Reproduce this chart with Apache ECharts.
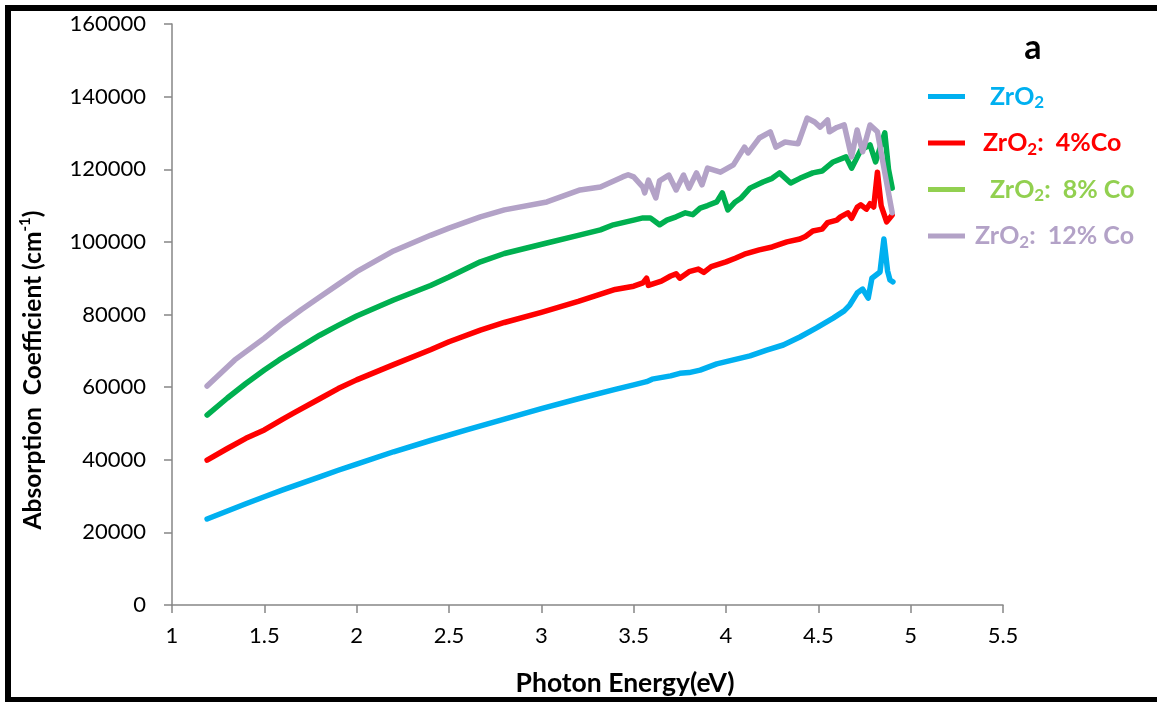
<!DOCTYPE html>
<html>
<head>
<meta charset="utf-8">
<script src="https://cdn.jsdelivr.net/npm/echarts@6/dist/echarts.min.js"></script>
<style>
  html, body { margin: 0; padding: 0; background: #ffffff; }
  #chart { width: 1157px; height: 702px; }
</style>
</head>
<body>
<div id="chart"></div>
<script>
// Absorption coefficient (cm^-1) against photon energy (eV), as [eV, alpha] pairs.
const zro2 = [
  [1.19, 23700], [1.3, 25900], [1.4, 27900], [1.5, 29800], [1.6, 31700], [1.7, 33500],
  [1.8, 35300], [1.9, 37100], [2.0, 38800], [2.2, 42200], [2.4, 45300], [2.6, 48300],
  [2.8, 51200], [3.0, 54100], [3.2, 56800], [3.4, 59400], [3.5, 60600], [3.57, 61500],
  [3.6, 62200], [3.7, 63100], [3.75, 63800], [3.8, 64000], [3.86, 64700], [3.95, 66400],
  [4.04, 67500], [4.13, 68600], [4.22, 70200], [4.31, 71600], [4.40, 73800], [4.49, 76300],
  [4.58, 79000], [4.64, 81000], [4.67, 82600], [4.71, 85900], [4.74, 87000], [4.77, 84500],
  [4.79, 90000], [4.834, 91700], [4.855, 100800], [4.875, 92000], [4.888, 89500], [4.904, 89000]
];
const zro2Co4 = [
  [1.19, 39900], [1.3, 43100], [1.4, 45900], [1.5, 48200], [1.6, 51200], [1.66, 52900],
  [1.8, 56800], [1.9, 59600], [2.0, 62000], [2.2, 66200], [2.4, 70300], [2.5, 72500],
  [2.67, 75700], [2.8, 77800], [3.0, 80600], [3.2, 83600], [3.4, 86900], [3.5, 87800],
  [3.55, 88700], [3.57, 90000], [3.58, 88000], [3.65, 89200], [3.7, 90600], [3.73, 91200],
  [3.75, 90000], [3.8, 91800], [3.85, 92500], [3.88, 91600], [3.92, 93200], [4.0, 94500],
  [4.05, 95500], [4.1, 96600], [4.18, 97800], [4.25, 98600], [4.33, 100000], [4.4, 100800],
  [4.43, 101500], [4.47, 103000], [4.52, 103500], [4.55, 105300], [4.6, 106000], [4.62, 106900],
  [4.66, 108000], [4.68, 106500], [4.71, 109500], [4.73, 110200], [4.76, 109000], [4.78, 110500],
  [4.80, 109600], [4.82, 119200], [4.84, 110000], [4.87, 105500], [4.90, 107400]
];
const zro2Co8 = [
  [1.19, 52300], [1.3, 57000], [1.4, 61000], [1.5, 64700], [1.58, 67500], [1.7, 71200],
  [1.8, 74300], [1.9, 77000], [2.0, 79600], [2.2, 84000], [2.4, 88000], [2.5, 90300],
  [2.67, 94500], [2.8, 96800], [3.03, 99700], [3.2, 101800], [3.32, 103300], [3.39, 104700],
  [3.5, 106000], [3.55, 106600], [3.59, 106600], [3.64, 104700], [3.68, 106000], [3.73, 106900],
  [3.78, 108000], [3.82, 107500], [3.86, 109300], [3.9, 110000], [3.95, 111000], [3.98, 113500],
  [4.01, 108800], [4.05, 111000], [4.08, 112000], [4.13, 114800], [4.2, 116500], [4.25, 117500],
  [4.29, 119000], [4.35, 116200], [4.4, 117500], [4.47, 119000], [4.52, 119500], [4.58, 122000],
  [4.65, 123400], [4.68, 120300], [4.73, 125300], [4.78, 126700], [4.81, 122000], [4.86, 130000],
  [4.88, 120000], [4.90, 114800]
];
const zro2Co12 = [
  [1.19, 60300], [1.34, 67500], [1.5, 73500], [1.6, 77600], [1.7, 81300], [1.8, 84800],
  [1.9, 88300], [2.0, 91800], [2.2, 97500], [2.4, 101800], [2.5, 103800], [2.67, 106900],
  [2.8, 108800], [3.03, 111000], [3.21, 114300], [3.32, 115100], [3.44, 117900], [3.47, 118500],
  [3.5, 117900], [3.55, 115100], [3.56, 113500], [3.58, 117000], [3.62, 112100], [3.64, 116800],
  [3.69, 118400], [3.73, 114300], [3.77, 118400], [3.80, 114800], [3.84, 119000], [3.87, 115700],
  [3.90, 120300], [3.97, 119200], [4.04, 121200], [4.10, 126100], [4.12, 124500], [4.18, 128600],
  [4.24, 130300], [4.27, 126100], [4.32, 127500], [4.36, 127200], [4.39, 127000], [4.44, 134100],
  [4.48, 133000], [4.51, 131600], [4.55, 133600], [4.56, 130300], [4.60, 131500], [4.64, 132200],
  [4.68, 123400], [4.71, 130800], [4.74, 124800], [4.78, 132200], [4.82, 130300], [4.86, 119000],
  [4.90, 108000]
];

const seriesNames = ['ZrO2', 'ZrO2: 4%Co', 'ZrO2: 8% Co', 'ZrO2: 12% Co'];
const lineColors = ['#00B0F0', '#FF0000', '#00B050', '#B3A2C7'];
const legendColors = ['#00B0F0', '#FF0000', '#92D050', '#B3A2C7'];
const legendSuffix = ['', ':  4%Co', ':  8% Co', ':  12% Co'];
const legendIndent = [20, 13, 20, 5];

const FONT = 'Lato, "Open Sans", sans-serif';

const rich = {};
legendColors.forEach((c, i) => {
  rich['g' + i] = { width: legendIndent[i] };
  rich['b' + i] = { color: c, fontSize: 25, fontWeight: 'bold', lineHeight: 30, fontFamily: FONT };
  rich['s' + i] = { color: c, fontSize: 17, fontWeight: 'bold', lineHeight: 14, verticalAlign: 'bottom', fontFamily: FONT };
});

const chart = echarts.init(document.getElementById('chart'), null, { renderer: 'canvas' });

const axisGray = '#868686';

chart.setOption({
  backgroundColor: '#ffffff',
  animation: false,
  grid: { left: 172, right: 154, top: 24, bottom: 97 },
  xAxis: {
    type: 'value', min: 1, max: 5.5, interval: 0.5,
    axisLine: { lineStyle: { color: axisGray, width: 1.5 } },
    axisTick: { show: true, length: 8, lineStyle: { color: axisGray, width: 1.5 } },
    splitLine: { show: false },
    axisLabel: { color: '#000', fontSize: 22, fontFamily: FONT, margin: 20 }
  },
  yAxis: {
    type: 'value', min: 0, max: 160000, interval: 20000,
    axisLine: { show: true, lineStyle: { color: axisGray, width: 1.5 } },
    axisTick: { show: true, length: 8, lineStyle: { color: axisGray, width: 1.5 } },
    splitLine: { show: false },
    axisLabel: { color: '#000', fontSize: 22, fontFamily: FONT, margin: 26, formatter: v => String(v) }
  },
  legend: {
    orient: 'vertical', left: 928, top: 84, padding: 0,
    itemWidth: 37, itemHeight: 5, itemGap: 19,
    icon: 'rect',
    data: seriesNames.map((n, i) => ({ name: n, itemStyle: { color: legendColors[i] } })),
    formatter: function (name) {
      const i = seriesNames.indexOf(name);
      let s = '{g' + i + '|}{b' + i + '|ZrO}{s' + i + '|2}';
      if (legendSuffix[i]) s += '{b' + i + '|' + legendSuffix[i] + '}';
      return s;
    },
    textStyle: { rich: rich, fontFamily: FONT }
  },
  series: [zro2, zro2Co4, zro2Co8, zro2Co12].map((d, i) => ({
    name: seriesNames[i],
    type: 'line',
    data: d,
    showSymbol: false,
    symbol: 'none',
    lineStyle: { color: lineColors[i], width: 5.5, cap: 'round', join: 'round' },
    itemStyle: { color: lineColors[i] }
  })),
  graphic: [
    {
      type: 'rect', z: 100,
      shape: { x: 8, y: 8, width: 1300, height: 692 },
      style: { fill: null, stroke: '#000', lineWidth: 6 }
    },
    {
      type: 'text', x: 1033, y: 48,
      style: { text: 'a', fontSize: 34, fontWeight: 'bold', fontFamily: FONT, fill: '#000', align: 'center', verticalAlign: 'middle' }
    },
    {
      type: 'text', x: 625, y: 683,
      style: { text: 'Photon Energy(eV)', fontSize: 26.5, fontWeight: 'bold', fontFamily: FONT, fill: '#000', align: 'center', verticalAlign: 'middle' }
    },
    {
      type: 'text', x: 33, y: 370, rotation: Math.PI / 2,
      style: {
        text: '{t|Absorption  Coefficient (cm}{u|-1}{t|)}',
        align: 'center', verticalAlign: 'middle',
        rich: {
          t: { fontSize: 24.5, fontWeight: 'bold', fontFamily: FONT, fill: '#000', lineHeight: 30 },
          u: { fontSize: 15, fontWeight: 'bold', fontFamily: FONT, fill: '#000', lineHeight: 15, verticalAlign: 'top' }
        }
      }
    }
  ]
});
</script>
</body>
</html>
